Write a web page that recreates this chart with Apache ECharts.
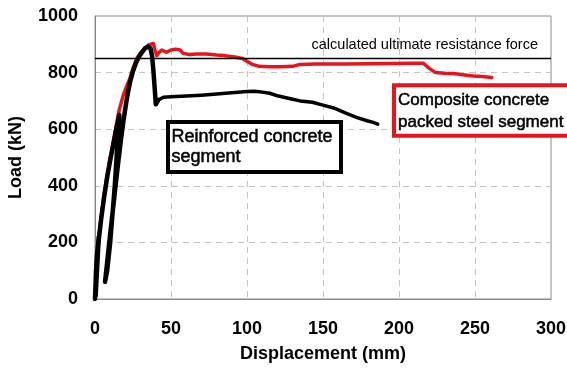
<!DOCTYPE html>
<html>
<head>
<meta charset="utf-8">
<script src="https://cdn.jsdelivr.net/npm/echarts@6/dist/echarts.min.js"></script>
<style>
html,body{margin:0;padding:0;background:#fff;}
#chart{width:567px;height:372px;}
</style>
</head>
<body>
<div id="chart"></div>
<script>
// Reinforced concrete segment (black)
const rcDisp = [0,0.3,0.6,1.2,2.5,1.2,0.4,1,2.5,4,6,8,10,12,14,16,13,10,8,6.6,8,10,12.5,15,17,19,21,23,25,27,29.6,32.9,35,36.5,37.5,38.4,39.5,40,41.6,45,50,60,70,80,90,100,105,110,115,120,125,130,135,143,150,157,165,172,179,183,186];
const rcLoad = [0,40,90,150,220,90,10,100,210,280,360,430,490,545,600,650,400,200,100,61,130,230,350,470,560,640,710,765,805,835,862,886,892,885,860,809,727,688,703,713,715,717,720,724,729,733,734,731,727,718,712,706,700,695,685,675,657,642,630,624,618];
// Composite concrete packed steel segment (red)
const cpDisp = [0,1,2.5,4,6,8,10,12,14,16,18.6,21,23,25,27.4,30,32.9,35,36.5,38.4,39.5,40.6,42,43.9,47,50,53,56,58,62,67,73,80,85,92,97,100,103,108,115,122,130,135,145,155,165,180,195,210,216,220,224,230,236,242,249,255,261];
const cpLoad = [0,120,220,290,370,440,500,555,615,670,720,755,780,815,850,870,886,897,900,903,880,860,870,880,872,880,883,880,868,864,866,866,862,860,855,850,840,830,822,821,821,822,829,830,830,830,831,832,833,833,815,800,798,797,792,788,786,783];
// Calculated ultimate resistance force
const ultimateForce = 852;
const xTicks = [0,50,100,150,200,250,300];
const yTicks = [0,200,400,600,800,1000];

const toPairs = (xs, ys) => xs.map((x, i) => [x, ys[i]]);
// the cyclic pre-peak part is drawn heavier than the post-peak branch
const rcSplit = rcDisp.indexOf(41.6);
const rcAll = toPairs(rcDisp, rcLoad);

const chart = echarts.init(document.getElementById('chart'), null, {renderer:'canvas'});
const FONT = '"Liberation Sans", Arial, sans-serif';
const RED = '#e8141c';

chart.setOption({
  animation: false,
  backgroundColor: '#fff',
  grid: {left: 95, right: 16, top: 16, bottom: 73, show: true, borderColor: '#8a8a8a', borderWidth: 1, containLabel: false, outerBoundsMode: 'none'},
  xAxis: {
    type: 'value', min: xTicks[0], max: xTicks[xTicks.length-1], interval: 50,
    axisLine: {show: true, lineStyle: {color: '#8a8a8a', width: 1}},
    axisTick: {show: false},
    axisLabel: {color: '#000', fontSize: 18, fontWeight: 'bold', fontFamily: FONT, margin: 21, formatter: v => String(v)},
    splitLine: {show: true, lineStyle: {color: '#c4c4c4', type: [6, 5], width: 1}},
    name: 'Displacement (mm)', nameLocation: 'middle', nameGap: 46,
    nameTextStyle: {color: '#000', fontSize: 18, fontWeight: 'bold', fontFamily: FONT}
  },
  yAxis: {
    type: 'value', min: yTicks[0], max: yTicks[yTicks.length-1], interval: 200,
    axisLine: {show: true, lineStyle: {color: '#8a8a8a', width: 1}},
    axisTick: {show: false},
    axisLabel: {color: '#000', fontSize: 18, fontWeight: 'bold', fontFamily: FONT, margin: 17, formatter: v => String(v)},
    splitLine: {show: true, lineStyle: {color: '#c4c4c4', type: [6, 5], width: 1}},
    name: 'Load (kN)', nameLocation: 'middle', nameGap: 70, nameRotate: 90,
    nameTextStyle: {color: '#000', fontSize: 18, fontWeight: 'bold', fontFamily: FONT}
  },
  series: [
    {
      name: 'Composite concrete packed steel segment', type: 'line',
      data: toPairs(cpDisp, cpLoad), showSymbol: false, symbol: 'none',
      lineStyle: {color: RED, width: 3.5, join: 'round', cap: 'round'},
      z: 2
    },
    {
      name: 'Reinforced concrete segment', type: 'line',
      data: rcAll.slice(0, rcSplit + 1), showSymbol: false, symbol: 'none',
      lineStyle: {color: '#000', width: 4.5, join: 'round', cap: 'round'},
      z: 3,
      markLine: {
        silent: true, symbol: 'none',
        lineStyle: {color: '#000', width: 1.3, type: 'solid'},
        label: {show: false},
        data: [{yAxis: ultimateForce}]
      }
    },
    {
      name: 'Reinforced concrete segment', type: 'line',
      data: rcAll.slice(rcSplit), showSymbol: false, symbol: 'none',
      lineStyle: {color: '#000', width: 3.5, join: 'round', cap: 'round'},
      z: 3
    }
  ],
  graphic: [
    {type: 'text', z: 10, style: {x: 538, y: 45, text: 'calculated ultimate resistance force', align: 'right', verticalAlign: 'middle', fill: '#000', font: '14.5px ' + FONT}},
    {type: 'rect', z: 10, shape: {x: 168, y: 122, width: 173, height: 50}, style: {fill: '#fff', stroke: '#000', lineWidth: 4}},
    {type: 'text', z: 11, style: {x: 171.5, y: 127, text: 'Reinforced concrete\nsegment', align: 'left', verticalAlign: 'top', fill: '#000', font: '18px ' + FONT, lineHeight: 20, stroke: '#000', lineWidth: 0.5}},
    {type: 'rect', z: 10, shape: {x: 394, y: 85.3, width: 200, height: 50.5}, style: {fill: '#fff', stroke: RED, lineWidth: 4}},
    {type: 'text', z: 11, style: {x: 398, y: 90, text: 'Composite concrete\npacked steel segment', align: 'left', verticalAlign: 'top', fill: '#000', font: '17px ' + FONT, lineHeight: 21.5, stroke: '#000', lineWidth: 0.5}}
  ]
});
</script>
</body>
</html>
